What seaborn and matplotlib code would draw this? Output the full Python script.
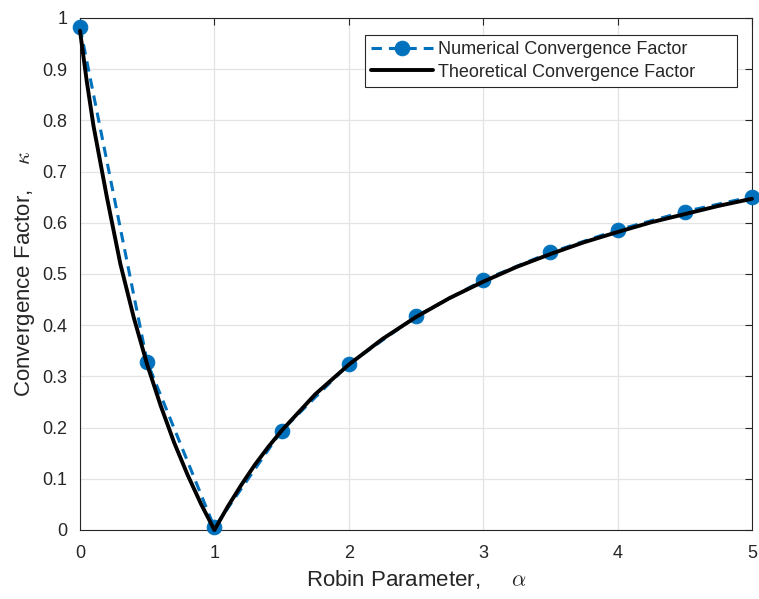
import matplotlib
matplotlib.use("Agg")
import matplotlib.pyplot as plt
import pandas as pd
import seaborn as sns

# numerical convergence factor (markers)
alpha_num = [0, 0.5, 1, 1.5, 2, 2.5, 3, 3.5, 4, 4.5, 5]
kappa_num = [0.982, 0.328, 0.005, 0.194, 0.324, 0.417, 0.488, 0.542, 0.586, 0.622, 0.651]

# theoretical convergence factor
alpha_th = [0, 0.05, 0.1, 0.2, 0.3, 0.4, 0.5, 0.6, 0.7, 0.8, 0.9, 1.0,
            1.1, 1.2, 1.3, 1.4, 1.5, 1.75, 2, 2.25, 2.5, 2.75, 3,
            3.25, 3.5, 3.75, 4, 4.25, 4.5, 4.75, 5]
kappa_th = [0.975, 0.877, 0.79, 0.65, 0.52, 0.415, 0.323, 0.243, 0.171, 0.108, 0.051, 0.0,
            0.046, 0.088, 0.127, 0.162, 0.194, 0.265, 0.323, 0.373, 0.416, 0.453, 0.485,
            0.514, 0.539, 0.562, 0.582, 0.601, 0.617, 0.633, 0.647]

BLUE = "#0072BD"

sns.set_style("whitegrid")
plt.rcParams["font.family"] = ["Liberation Sans", "DejaVu Sans"]
plt.rcParams["mathtext.fontset"] = "cm"

df_num = pd.DataFrame({"alpha": alpha_num, "kappa": kappa_num})
df_th = pd.DataFrame({"alpha": alpha_th, "kappa": kappa_th})

fig = plt.figure(figsize=(7.59, 5.99), dpi=100)
ax = fig.add_axes([80 / 759, 69 / 599, 672 / 759, 512 / 599])

sns.lineplot(data=df_num, x="alpha", y="kappa", ax=ax, color=BLUE,
             linestyle="--", linewidth=2.2, marker="o", markersize=10.5,
             markeredgecolor=BLUE, label="Numerical Convergence Factor",
             clip_on=False, zorder=3)
sns.lineplot(data=df_th, x="alpha", y="kappa", ax=ax, color="black",
             linewidth=2.8, label="Theoretical Convergence Factor",
             clip_on=False, zorder=4)
ax.lines[0].set_dashes((3.4, 2.3))

ax.set_xlim(0, 5)
ax.set_ylim(0, 1)
ax.set_xticks([0, 1, 2, 3, 4, 5])
ax.set_yticks([i / 10 for i in range(11)])
ax.set_yticklabels(["0"] + [f"{i / 10:.1f}" for i in range(1, 10)] + ["1"])

ax.grid(True, color="#e3e3e3", linewidth=0.9)
for sp in ax.spines.values():
    sp.set_color("#262626")
    sp.set_linewidth(0.8)
ax.tick_params(direction="in", top=True, right=True, length=5,
               labelsize=13, colors="#262626", width=0.8)
ax.tick_params(axis="x", pad=11)
ax.tick_params(axis="y", pad=9)

ax.set_xlabel(r"Robin Parameter,     $\alpha$", fontsize=16, color="#262626",
              labelpad=4)
ax.set_ylabel(r"Convergence Factor,    $\kappa$", fontsize=16, color="#262626",
              labelpad=4)

leg = ax.legend(loc="upper left", bbox_to_anchor=(0.424, 0.863, 0.554, 0.104),
                mode="expand", borderaxespad=0,
                fontsize=13, frameon=True, fancybox=False, framealpha=1,
                edgecolor="#262626", handlelength=3.4, borderpad=0.35,
                labelspacing=0.3, handletextpad=0.3)
leg.get_frame().set_linewidth(0.8)

fig.savefig("out.png", dpi=100)
